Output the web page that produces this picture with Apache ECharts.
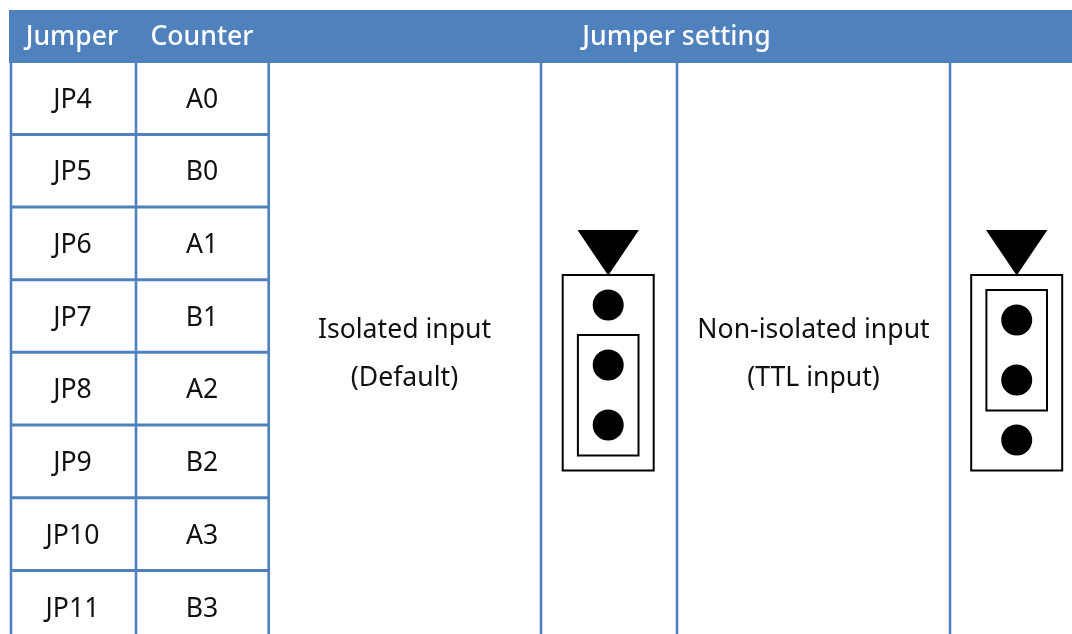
<!DOCTYPE html>
<html>
<head>
<meta charset="utf-8">
<title>Jumper setting</title>
<script src="https://cdn.jsdelivr.net/npm/echarts@6/dist/echarts.min.js"></script>
<style>
  html, body { margin: 0; padding: 0; background: #fff; }
  #chart { width: 1072px; height: 634px; }
</style>
</head>
<body>
<div id="chart"></div>
<script>
// Table content
const headers = ['Jumper', 'Counter', 'Jumper setting']
const jumpers = ['JP4', 'JP5', 'JP6', 'JP7', 'JP8', 'JP9', 'JP10', 'JP11']
const counters = ['A0', 'B0', 'A1', 'B1', 'A2', 'B2', 'A3', 'B3']
const settingLabels = [
  ['Isolated input', '(Default)'],
  ['Non-isolated input', '(TTL input)']
]

// Layout, in axis units (axes span the page 1:1)
const BLUE = '#4f81bd'
const FONT = '"Noto Sans", "Open Sans", sans-serif'
const FONT_SIZE = 26.6
const columnLines = [11, 136, 268.7, 541, 677, 950]
const rowLines = [134.5, 207, 279.7, 352.3, 425, 497.7, 570.5]
const rowCenters = [100, 172.5, 245, 318, 390.5, 463, 536, 609]
const headerCenters = [72, 202, 676.5]
const jumperCenter = 72.5
const counterCenter = 202
const settingCenters = [404.5, 813.5]
const settingLineY = [330, 378]
// shunt covers two of the three pins
const figures = [
  { cx: 608.2, shuntTop: 335, shuntBottom: 455.5 },
  { cx: 1016.7, shuntTop: 290, shuntBottom: 410.5 }
]
const figureFirstPin = [305, 320]

const rect = (api, x0, y0, x1, y1, style) => {
  const a = api.coord([x0, y0])
  const b = api.coord([x1, y1])
  return {
    type: 'rect',
    shape: { x: a[0], y: a[1], width: b[0] - a[0], height: b[1] - a[1] },
    style
  }
}

const label = (api, x, y, text, fill, fontWeight) => {
  const p = api.coord([x, y])
  return {
    type: 'text',
    x: p[0],
    y: p[1],
    style: {
      text,
      fill,
      fontSize: FONT_SIZE,
      fontWeight: fontWeight || 400,
      fontFamily: FONT,
      align: 'center',
      verticalAlign: 'middle'
    }
  }
}

// Blue header band and grid lines
const renderGrid = (params, api) => {
  const children = [rect(api, 9, 10, 1072, 63, { fill: BLUE })]
  columnLines.forEach(x => {
    children.push(rect(api, x - 1.3, 63, x + 1.3, 634, { fill: BLUE }))
  })
  rowLines.forEach(y => {
    children.push(rect(api, 10, y - 1.5, columnLines[2] + 1, y + 1.5, { fill: BLUE }))
  })
  return { type: 'group', children }
}

const renderHeader = (params, api) =>
  label(api, headerCenters[params.dataIndex], 37, headers[params.dataIndex], '#fff', 500)

const renderRow = (params, api) => {
  const i = params.dataIndex
  return {
    type: 'group',
    children: [
      label(api, jumperCenter, rowCenters[i], jumpers[i], '#111'),
      label(api, counterCenter, rowCenters[i], counters[i], '#111')
    ]
  }
}

const renderSetting = (params, api) => {
  const i = params.dataIndex
  return {
    type: 'group',
    children: settingLabels[i].map((text, n) =>
      label(api, settingCenters[i], settingLineY[n], text, '#111'))
  }
}

const renderFigure = (params, api) => {
  const i = params.dataIndex
  const { cx, shuntTop, shuntBottom } = figures[i]
  const line = { fill: 'none', stroke: '#000', lineWidth: 2 }
  const tip = api.coord([cx, 275.5])
  const left = api.coord([cx - 30.7, 230])
  const right = api.coord([cx + 30.7, 230])
  const pins = [0, 60, 120].map(dy => {
    const c = api.coord([cx, figureFirstPin[i] + dy])
    return { type: 'circle', shape: { cx: c[0], cy: c[1], r: 15.5 }, style: { fill: '#000' } }
  })
  return {
    type: 'group',
    children: [
      rect(api, cx - 45.5, 275, cx + 45.5, 470.5, line),
      rect(api, cx - 30.3, shuntTop, cx + 30.3, shuntBottom, line),
      { type: 'polygon', shape: { points: [left, right, tip] }, style: { fill: '#000' } },
      ...pins
    ]
  }
}

const customSeries = (data, renderItem) => ({
  type: 'custom',
  coordinateSystem: 'cartesian2d',
  data,
  renderItem,
  clip: false,
  silent: true,
  animation: false
})

const chart = echarts.init(document.getElementById('chart'), null, { renderer: 'canvas' })
chart.setOption({
  animation: false,
  backgroundColor: '#fff',
  grid: { left: 0, right: 0, top: 0, bottom: 0 },
  xAxis: { type: 'value', min: 0, max: 1072, show: false },
  yAxis: { type: 'value', min: 0, max: 634, inverse: true, show: false },
  series: [
    customSeries([0], renderGrid),
    customSeries(headers.map((_, i) => i), renderHeader),
    customSeries(jumpers.map((_, i) => i), renderRow),
    customSeries(settingLabels.map((_, i) => i), renderSetting),
    customSeries(figures.map((_, i) => i), renderFigure)
  ]
})
</script>
</body>
</html>
